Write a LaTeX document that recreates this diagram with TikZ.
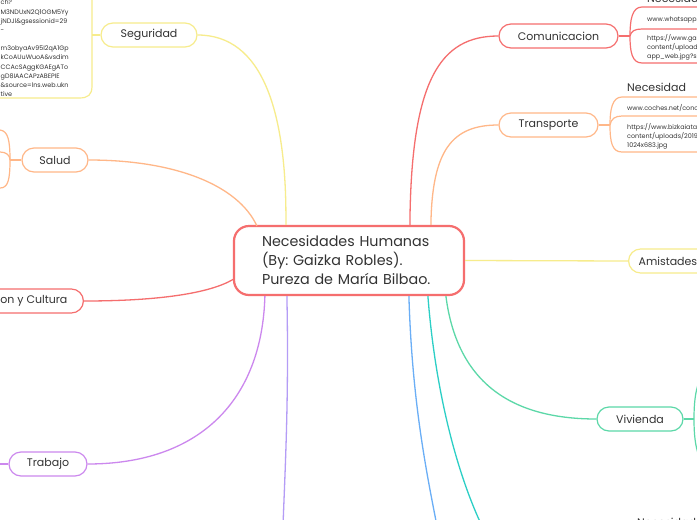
\documentclass[tikz,border=0pt]{standalone}
\usepackage{fontspec}
\setmainfont{Poppins}
\usepackage{xcolor}
\definecolor{ink}{HTML}{333333}
\definecolor{mapred}{HTML}{F56E6E}
\definecolor{maporange}{HTML}{FFB788}
\definecolor{mapyellow}{HTML}{F7EC8C}
\definecolor{mappurple}{HTML}{CC88EE}
\definecolor{maplilac}{HTML}{B49CF6}
\definecolor{mapblue}{HTML}{6AAEF6}
\definecolor{mapteal}{HTML}{2CCFC6}
\definecolor{mapgreen}{HTML}{5CD8A8}
\usetikzlibrary{positioning,calc}
\frenchspacing
\tikzset{
  hub/.style  ={rectangle, rounded corners=15pt, draw=mapred, line width=2.2pt, fill=white,
                minimum width=230pt, minimum height=69pt, align=left, text=ink,
                text width=174pt, font=\fontsize{14.3}{19}\selectfont},
  topic/.style={rectangle, rounded corners=12pt, line width=1.2pt, fill=white,
                minimum height=24pt, inner xsep=6pt, text=ink,
                font=\fontsize{11}{13}\selectfont},
  link/.style ={line width=1.3pt},
  brace/.style={line width=1.2pt},
  note/.style ={font=\fontsize{6.4}{9.2}\selectfont, align=left, text=ink,
                inner sep=0pt, anchor=north west},
  title/.style={font=\fontsize{11}{13}\selectfont, text=ink, inner sep=0pt, anchor=west},
}

\begin{document}
\begin{tikzpicture}[x=1pt, y=-1pt]
  \useasboundingbox (0,0) rectangle (697,520);
  \clip (0,0) rectangle (697,520);
  \fill[white] (0,0) rectangle (697,520);

  % centre and main branches
  \node[hub] (hub) at (349,260.5) {Necesidades Humanas\\(By: Gaizka Robles).\\Pureza de María Bilbao.};
  \node[topic, draw=mapyellow, minimum width=96pt] (seg) at (149,35) {Seguridad};
  \node[topic, draw=maporange, minimum width=66pt] (salud) at (55,160) {Salud};
  \node[topic, draw=mapred, inner xsep=16pt, anchor=east] (edu) at (84,301) {Educacion y Cultura};
  \node[topic, draw=mappurple, minimum width=78pt] (trab) at (48,464) {Trabajo};
  \node[topic, draw=mapred, minimum width=119pt] (com) at (558.5,36) {Comunicacion};
  \node[topic, draw=maporange, minimum width=99pt] (trans) at (548.5,125) {Transporte};
  \node[topic, draw=mapyellow, minimum width=100pt, anchor=west, align=left, text width=80pt] (amis) at (628,261) {Amistades};
  \node[topic, draw=mapgreen, minimum width=86pt] (viv) at (640,419) {Vivienda};

  % free ends leaving the page
  \coordinate (blueend) at (437,526);
  \coordinate (tealend) at (482,526);
  \coordinate (lilacend) at (283,526);
  \coordinate (trabend) at (-5,464);

  \draw[link, mapyellow] (seg.east) .. controls (262,35) and (287,110) .. ($(hub.north west)+(53,0)$);
  \draw[link, maporange] (salud.east) .. controls (175,160) and (238,185) .. ($(hub.north west)+(24,1)$);
  \draw[link, mapred] (edu.east) .. controls (160,301) and (210,293) .. ($(hub.west)+(0,19)$);
  \draw[link, mappurple] ($(hub.south west)+(32,0)$) .. controls (262,400) and (200,464) .. (trab.east);
  \draw[link, maplilac] ($(hub.south west)+(54,0)$) .. controls (289,400) and (285,470) .. (lilacend);
  \draw[link, mapred] ($(hub.north west)+(177,0)$) .. controls (411,80) and (440,36) .. (com.west);
  \draw[link, maporange] ($(hub.north west)+(198,0)$) .. controls (432,150) and (452,125) .. (trans.west);
  \draw[link, mapyellow] (hub.east) -- (amis.west);
  \draw[link, mapgreen] ($(hub.south west)+(213,0)$) .. controls (458,390) and (520,419) .. (viv.west);
  \draw[link, mapblue] ($(hub.south west)+(176,0)$) .. controls (412,400) and (426,470) .. (blueend);
  \draw[link, mapteal] ($(hub.south west)+(195,0)$) .. controls (436,400) and (460,480) .. (tealend);
  \draw[link, mappurple] (trab.west) -- (trabend);

  % Seguridad notes (left)
  \coordinate (segb) at (92,35);
  \draw[brace, mapyellow] (seg.west) -- (segb);
  \draw[brace, mapyellow] (92,-5) -- (segb) -- (92,86) .. controls (92,95) and (88,98) .. (79,98) -- (-5,98);
  \node[note] (segtxt) at (0.5,0) {ch?\\M3NDUxN2Q1OGM5Yy\\jNDJl\&gsessionid=29\\-\\[9pt]m3obyaAv95I2qA1Gp\\kCoAUuWuoA\&vsdim\\CCAcSAggKGAEgATo\\gD8IAACAPzABEPIE\\\&source=lns.web.ukn\\tive};

  % Salud notes (left)
  \coordinate (salb) at (10,160);
  \draw[brace, maporange] (salud.west) -- (salb);
  \draw[brace, maporange] (-5,130) -- (0,130) .. controls (8,131) and (10,140) .. (salb)
        .. controls (10,180) and (8,188) .. (0,188) -- (-5,188);
  \draw[brace, maporange] (salb) .. controls (10,155) and (6,152) .. (0,152) -- (-5,152);

  % Comunicacion notes (right)
  \coordinate (comb) at (630,36);
  \draw[brace, mapred] (com.east) -- (comb);
  \draw[brace, mapred] (702,7) -- (642,7) .. controls (632,7) and (630,20) .. (comb)
        .. controls (630,52) and (632,63) .. (642,63) -- (702,63);
  \draw[brace, mapred] (comb) .. controls (631,31) and (635,29) .. (642,29) -- (702,29);
  \node[title] (comtit) at (647,-1.5) {Necesidad};
  \node[note] (comn1) at (647,16.5) {www.whatsapp.com};
  \node[note] (comn2) at (647,34) {https://www.gadgets.com/wp-\\content/uploads/2020\\app\_web.jpg?size};

  % Transporte notes (right)
  \coordinate (trab2) at (610,125);
  \draw[brace, maporange] (trans.east) -- (trab2);
  \draw[brace, maporange] (702,97) -- (622,97) .. controls (612,97) and (610,110) .. (trab2)
        .. controls (610,142) and (612,152) .. (622,152) -- (702,152);
  \draw[brace, maporange] (trab2) .. controls (611,119) and (615,116) .. (622,116) -- (702,116);
  \node[title] (transtit) at (627,87) {Necesidad};
  \node[note] (transn1) at (627,104.5) {www.coches.net/concesionarios};
  \node[note] (transn2) at (627,123) {https://www.bizkaiatalent.eus/wp-\\content/uploads/2019/08/coche-\\1024x683.jpg};

  % Vivienda notes (right)
  \coordinate (vivb) at (694,419);
  \draw[brace, mapgreen] (viv.east) -- (vivb);
  \draw[brace, mapgreen] (699,382) .. controls (695,392) and (694,405) .. (vivb)
        .. controls (694,433) and (695,446) .. (699,456);
  \node[title] (bottit) at (637,522) {Necesidad};
\end{tikzpicture}
\end{document}
